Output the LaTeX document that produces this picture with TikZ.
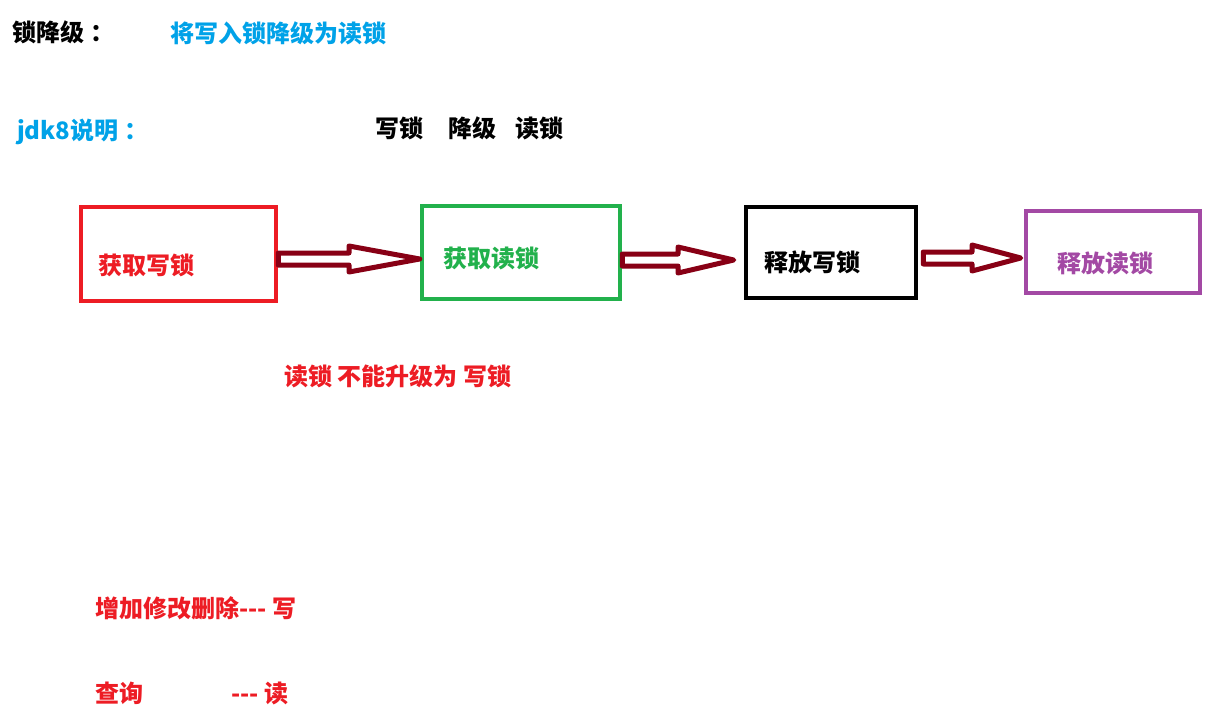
\documentclass[tikz,border=0pt]{standalone}
\usepackage{fontspec}
\setmainfont{Noto Sans CJK SC}
\usetikzlibrary{calc}
\definecolor{pred}{RGB}{237,28,36}
\definecolor{pgreen}{RGB}{34,177,76}
\definecolor{ppurple}{RGB}{163,73,164}
\definecolor{pblue}{RGB}{0,162,232}
\definecolor{pdark}{RGB}{136,0,21}
\newcommand\blkarrow[2]{%
  \draw[arrowline] ($(#1)+(0,-6)$) -- ($(#1)!0.5!(#2)+(0,-6)$) -- ($(#1)!0.5!(#2)+(0,-13)$) -- (#2)
    -- ($(#1)!0.5!(#2)+(0,13)$) -- ($(#1)!0.5!(#2)+(0,6)$) -- ($(#1)+(0,6)$) -- cycle;}
\newcommand\dashes{-{}-{}-}
\begin{document}
\begin{tikzpicture}[x=1pt,y=-1pt,
  txt/.style={anchor=base west,inner sep=0pt,font=\fontsize{24}{28}\selectfont\bfseries},
  box/.style={draw,line width=4.5pt,inner sep=0pt},
  arrowline/.style={draw=pdark,line width=5pt,line join=round}]
\useasboundingbox[fill=white] (0,0) rectangle (1221,723);
% titles
\node[txt] (t1) at (12,41) {锁降级\hspace{6pt}：};
\node[txt,text=pblue] (t2) at (170,42) {将写入锁降级为读锁};
\node[txt,text=pblue] (t3) at (17,139) {jdk8说明\hspace{6pt}：};
\node[txt] (t4) at (375,137) {写锁\hspace{25pt}降级\hspace{19pt}读锁};
% boxes
\node[box,draw=pred,minimum width=195pt,minimum height=94pt] (r) at (178.5,254) {};
\node[box,draw=pgreen,minimum width=198pt,minimum height=93pt] (g) at (521,252.5) {};
\node[box,draw=black,minimum width=170pt,minimum height=91pt] (k) at (831,252.5) {};
\node[box,draw=ppurple,minimum width=174pt,minimum height=82pt] (p) at (1113,252) {};
\node[txt,text=pred] (rt) at (98,274) {获取写锁};
\node[txt,text=pgreen] (gt) at (443,267) {获取读锁};
\node[txt] (kt) at (764,271) {释放写锁};
\node[txt,text=ppurple] (pt) at (1057,272) {释放读锁};
% arrows
\coordinate (s1) at (r.east |- 0,259);
\coordinate (e1) at (g.west |- 0,259);
\coordinate (s2) at (g.east |- 0,260);
\coordinate (e2) at ($(k.west |- 0,260)+(-10,0)$);
\coordinate (s3) at ($(k.east |- 0,258)+(5,0)$);
\coordinate (e3) at ($(p.west |- 0,258)+(-3,0)$);
\blkarrow{s1}{e1}
\blkarrow{s2}{e2}
\blkarrow{s3}{e3}
% notes
\node[txt,text=pred] (n1) at (284,385) {读锁 不能升级为 写锁};
\node[txt,text=pred] (n2) at (95,617) {增加修改删除\dashes{} 写};
\node[txt,text=pred] (n3) at (95,702) {查询\hspace{88pt}\dashes{} 读};
\end{tikzpicture}
\end{document}
